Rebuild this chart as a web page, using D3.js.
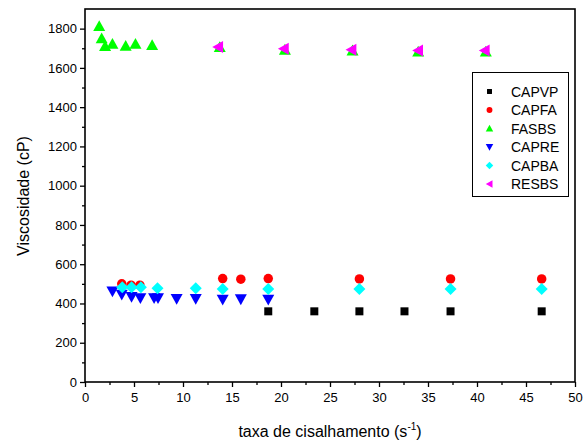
<!DOCTYPE html>
<html><head><meta charset="utf-8">
<script src="https://cdn.jsdelivr.net/npm/d3@7"></script>
<style>body{margin:0;background:#fff}svg{display:block}text{font-family:"Liberation Sans",Arial,sans-serif}</style>
</head><body><svg id="c" width="584" height="446"></svg>
<script>
// ---- data ----
const seriesNames = ["CAPVP","CAPFA","FASBS","CAPRE","CAPBA","RESBS"];
const seriesColors = ["#000000","#ff0000","#00ff00","#0000ff","#00ffff","#ff00ff"];
const seriesShapes = ["square","circle","triUp","triDown","diamond","triLeft"];
const capvpX = [18.7,23.4,28.0,32.6,37.3,46.6];
const capvpY = [360,360,360,360,360,360];
const capfaX = [3.75,4.7,5.6,14.05,15.9,18.7,28.0,37.3,46.6];
const capfaY = [500,493,493,527,524,527,525,525,525];
const fasbsX = [1.45,1.7,2.05,2.8,4.15,5.15,6.85,13.75,20.4,27.3,34.0,40.9];
const fasbsY = [1812,1750,1710,1722,1712,1722,1715,1705,1692,1688,1682,1682];
const caprex = [2.8,3.75,4.75,5.65,7.05,7.45,9.35,11.3,14.05,15.9,18.7];
const caprey = [462,446,434,428,428,428,424,424,420,422,420];
const capbaX = [3.8,4.75,5.7,7.4,11.3,14.05,18.7,28.0,37.3,46.6];
const capbaY = [483,483,483,478,478,474,474,474,474,474];
const resbsX = [13.6,20.3,27.2,34.0,40.8];
const resbsY = [1706,1698,1693,1688,1688];
const xTicks = [0,5,10,15,20,25,30,35,40,45,50];
const yTicks = [0,200,400,600,800,1000,1200,1400,1600,1800];
const xLabel = "taxa de cisalhamento (s";
const yLabel = "Viscosidade (cP)";

const data = [
  {x:capvpX,y:capvpY},{x:capfaX,y:capfaY},{x:fasbsX,y:fasbsY},
  {x:caprex,y:caprey},{x:capbaX,y:capbaY},{x:resbsX,y:resbsY}
];

const L=85,R=575,T=9,B=382;
const svg=d3.select("#c");
const x=d3.scaleLinear().domain([0,50]).range([L,R]);
const y=d3.scaleLinear().domain([0,1900]).range([B,T]);

function shape(kind,s){
  const h=s/2;
  switch(kind){
    case "square": return `M${-h},${-h}H${h}V${h}H${-h}Z`;
    case "circle": return `M${h},0A${h},${h} 0 1,1 ${-h},0A${h},${h} 0 1,1 ${h},0Z`;
    case "triUp": return `M0,${-h}L${h},${h*0.8}L${-h},${h*0.8}Z`;
    case "triDown": return `M0,${h}L${h},${-h*0.8}L${-h},${-h*0.8}Z`;
    case "triLeft": return `M${-h},0L${h*0.8},${-h}L${h*0.8},${h}Z`;
    case "diamond": return `M0,${-h}L${h},0L0,${h}L${-h},0Z`;
  }
}
const sizes={square:8,circle:9.5,triUp:12,triDown:12,triLeft:12,diamond:12};

// axes
const gx=svg.append("g").attr("transform",`translate(0,${B})`)
  .call(d3.axisBottom(x).tickValues(xTicks).tickSize(5).tickPadding(3).tickFormat(d3.format("d")));
const gxm=svg.append("g").attr("transform",`translate(0,${B})`)
  .call(d3.axisBottom(x).tickValues(d3.range(2.5,50,5)).tickSize(3).tickFormat(""));
const gy=svg.append("g").attr("transform",`translate(${L},0)`)
  .call(d3.axisLeft(y).tickValues(yTicks).tickSize(5).tickPadding(3).tickFormat(d3.format("d")));
const gym=svg.append("g").attr("transform",`translate(${L},0)`)
  .call(d3.axisLeft(y).tickValues(d3.range(100,1900,200)).tickSize(3).tickFormat(""));
[gx,gxm,gy,gym].forEach(g=>{
  g.select(".domain").remove();
  g.selectAll("line").attr("stroke","#000").attr("stroke-width",1.3);
  g.selectAll("text").attr("font-size",13).attr("fill","#000");
});
gx.selectAll("text").attr("dy","0.9em");

// frame
svg.append("rect").attr("x",L).attr("y",T).attr("width",R-L).attr("height",B-T)
  .attr("fill","none").attr("stroke","#000").attr("stroke-width",1.6);

// points
data.forEach((s,i)=>{
  const k=seriesShapes[i];
  svg.append("g").selectAll("path").data(s.x.map((v,j)=>[v,s.y[j]])).join("path")
    .attr("d",shape(k,sizes[k]))
    .attr("transform",d=>`translate(${x(d[0])},${y(d[1])})`)
    .attr("fill",seriesColors[i]);
});

// legend
const lg=svg.append("g");
lg.append("rect").attr("x",472.5).attr("y",72.5).attr("width",96).attr("height",124)
  .attr("fill","#fff").attr("stroke","#000").attr("stroke-width",1);
seriesNames.forEach((n,i)=>{
  const yy=91.5+i*18.5;
  const k=seriesShapes[i];
  lg.append("path").attr("d",shape(k,sizes[k]*0.62)).attr("transform",`translate(489.5,${yy})`).attr("fill",seriesColors[i]);
  lg.append("text").attr("x",511).attr("y",yy).attr("dy","0.36em").attr("font-size",14).text(n);
});

// axis labels
const xl=svg.append("text").attr("x",330).attr("y",437).attr("text-anchor","middle").attr("font-size",16);
xl.append("tspan").text(xLabel);
xl.append("tspan").attr("font-size",10).attr("dy",-7).text("-1");
xl.append("tspan").attr("dy",7).text(")");
svg.append("text").attr("transform",`translate(29,196) rotate(-90)`).attr("text-anchor","middle").attr("font-size",16).text(yLabel);
</script></body></html>
